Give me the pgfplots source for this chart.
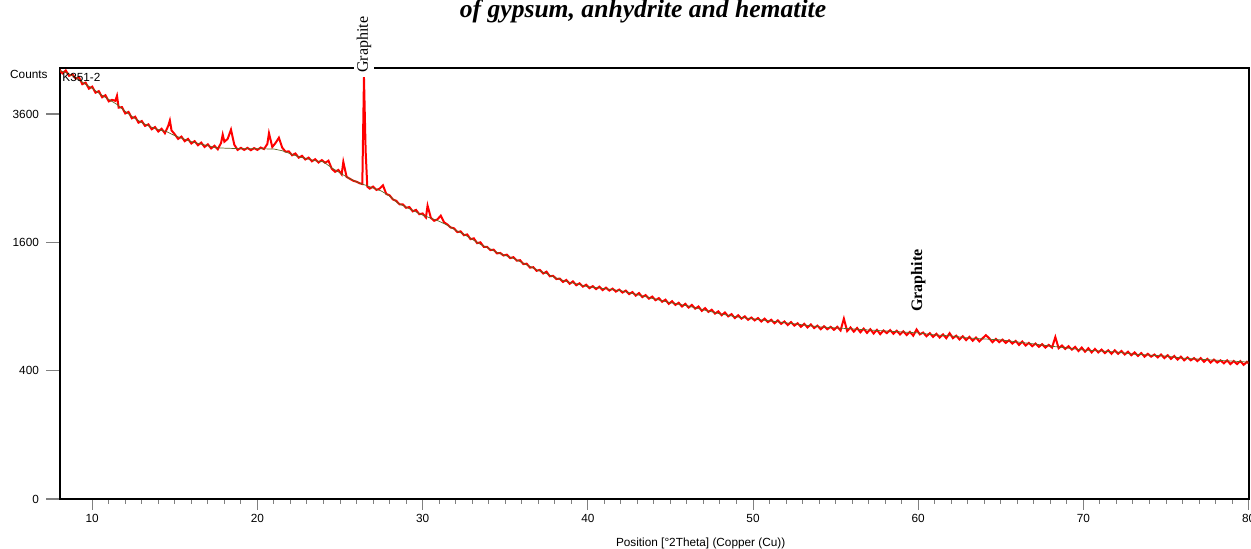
\documentclass[border=0pt]{standalone}
\usepackage{fontspec}
\setmainfont{Liberation Sans}
\newfontfamily\seriffont{Liberation Serif}
\usepackage{pgfplots}
\pgfplotsset{compat=1.18}
\definecolor{bgline}{RGB}{95,100,35}
\newcommand\tickfont{\fontsize{5.9}{6.5}\selectfont}

\begin{document}
\begin{tikzpicture}
\useasboundingbox (-30pt,-25pt) rectangle (595.5pt,249.5pt);
\begin{axis}[
    scale only axis,
    width=594.3pt, height=215.5pt,
    xmin=8.05, xmax=80,
    ymin=0, ymax=4512,
    % square-root intensity scale
    y coord trafo/.code={\pgfmathparse{sqrt(#1)}},
    y coord inv trafo/.code={\pgfmathparse{(#1)^2}},
    axis line style={line width=1pt},
    tick align=outside,
    xtick pos=bottom, ytick pos=left,
    xtick={10,20,...,80},
    minor x tick num=9,
    ytick={0,400,1600,3600},
    yticklabels={0,400,1600,3600},
    major tick length=7pt,
    minor tick length=2.5pt,
    xtick style={line width=0.5pt,/pgfplots/major tick length=5.5pt},
    ytick style={line width=0.6pt},
    minor tick style={line width=0.5pt},
    ticklabel style={font=\tickfont},
    /pgf/number format/assume math mode=true,
    xticklabel style={yshift=3pt},
    clip mode=individual,
]
\addplot[red, line width=1pt] coordinates {
(8.0,4480)(8.2,4400)(8.4,4460)(8.6,4350)(8.8,4380)(9.0,4290)(9.2,4320)(9.4,4180)(9.6,4210)(9.8,4090)
(10.0,4130)(10.2,4010)(10.4,4040)(10.6,3920)(10.8,3960)(11.0,3840)(11.2,3870)(11.4,3850)(11.5,3950)(11.6,3720)
(11.8,3730)(12.0,3610)(12.2,3640)(12.4,3520)(12.6,3550)(12.8,3440)(13.0,3470)(13.2,3380)(13.4,3410)(13.6,3320)
(13.8,3360)(14.0,3280)(14.2,3330)(14.4,3250)(14.6,3380)(14.7,3480)(14.8,3300)(15.0,3230)(15.2,3150)(15.4,3190)
(15.6,3110)(15.8,3150)(16.0,3070)(16.2,3110)(16.4,3040)(16.6,3085)(16.8,3010)(17.0,3055)(17.2,2985)(17.4,3030)
(17.6,2970)(17.8,3080)(17.9,3224)(18.0,3100)(18.2,3150)(18.4,3314)(18.6,3050)(18.8,2960)(19.0,2995)(19.2,2960)
(19.4,2995)(19.6,2955)(19.8,2990)(20.0,2960)(20.2,3000)(20.4,2975)(20.6,3060)(20.7,3250)(20.9,3010)(21.1,3080)
(21.3,3170)(21.5,3000)(21.7,2930)(21.9,2935)(22.1,2870)(22.3,2900)(22.5,2830)(22.7,2860)(22.9,2800)(23.1,2830)
(23.3,2770)(23.5,2805)(23.7,2750)(23.9,2790)(24.1,2745)(24.3,2780)(24.5,2650)(24.7,2600)(24.9,2630)(25.1,2560)
(25.2,2760)(25.4,2520)(25.6,2490)(25.8,2460)(26.0,2445)(26.2,2420)(26.35,2410)(26.45,4320)(26.55,2950)(26.65,2370)
(26.8,2340)(27.0,2370)(27.2,2320)(27.4,2340)(27.6,2390)(27.8,2260)(28.0,2240)(28.2,2180)(28.4,2160)(28.6,2110)
(28.8,2110)(29.0,2060)(29.2,2070)(29.4,2010)(29.6,2030)(29.8,1970)(30.0,1980)(30.2,1925)(30.3,2090)(30.5,1920)
(30.7,1880)(30.9,1900)(31.1,1950)(31.3,1860)(31.5,1830)(31.7,1790)(31.9,1780)(32.1,1730)(32.3,1740)(32.5,1690)
(32.7,1700)(32.9,1640)(33.1,1650)(33.3,1590)(33.5,1600)(33.7,1545)(33.9,1545)(34.1,1505)(34.3,1510)(34.5,1465)
(34.7,1470)(34.9,1440)(35.1,1450)(35.3,1410)(35.5,1420)(35.7,1380)(35.9,1385)(36.1,1340)(36.3,1345)(36.5,1300)
(36.7,1305)(36.9,1265)(37.1,1275)(37.3,1235)(37.5,1255)(37.7,1205)(37.9,1210)(38.1,1175)(38.3,1180)(38.5,1145)
(38.7,1165)(38.9,1125)(39.1,1150)(39.3,1110)(39.5,1130)(39.7,1095)(39.9,1115)(40.1,1080)(40.3,1100)(40.5,1070)
(40.7,1095)(40.9,1060)(41.1,1085)(41.3,1055)(41.5,1075)(41.7,1045)(41.9,1065)(42.1,1035)(42.3,1055)(42.5,1020)
(42.7,1040)(42.9,1005)(43.1,1030)(43.3,990)(43.5,1010)(43.7,975)(43.9,995)(44.1,960)(44.3,980)(44.5,945)
(44.7,965)(44.9,925)(45.1,950)(45.3,915)(45.5,935)(45.7,900)(45.9,925)(46.1,890)(46.3,915)(46.5,880)
(46.7,900)(46.9,860)(47.1,885)(47.3,850)(47.5,870)(47.7,835)(47.9,855)(48.1,820)(48.3,845)(48.5,810)
(48.7,830)(48.9,795)(49.1,820)(49.3,790)(49.5,810)(49.7,780)(49.9,800)(50.1,775)(50.3,795)(50.5,765)
(50.7,790)(50.9,760)(51.1,780)(51.3,750)(51.5,775)(51.7,745)(51.9,765)(52.1,735)(52.3,760)(52.5,730)
(52.7,750)(52.9,720)(53.1,745)(53.3,715)(53.5,740)(53.7,710)(53.9,730)(54.1,700)(54.3,725)(54.5,700)
(54.7,720)(54.9,695)(55.1,720)(55.3,690)(55.5,790)(55.7,685)(55.9,715)(56.1,680)(56.3,710)(56.5,675)
(56.7,705)(56.9,670)(57.1,700)(57.3,665)(57.5,695)(57.7,660)(57.9,690)(58.1,668)(58.3,693)(58.5,663)
(58.7,688)(58.9,658)(59.1,683)(59.3,653)(59.5,678)(59.7,648)(59.9,698)(60.1,658)(60.3,673)(60.5,643)
(60.7,668)(60.9,638)(61.1,663)(61.3,633)(61.5,658)(61.7,628)(61.9,668)(62.1,628)(62.3,648)(62.5,618)
(62.7,643)(62.9,613)(63.1,638)(63.3,608)(63.5,633)(63.7,603)(63.9,628)(64.1,652)(64.3,627)(64.5,597)
(64.7,622)(64.9,597)(65.1,617)(65.3,592)(65.5,612)(65.7,587)(65.9,607)(66.1,577)(66.3,602)(66.5,572)
(66.7,592)(66.9,567)(67.1,587)(67.3,562)(67.5,582)(67.7,557)(67.9,577)(68.1,557)(68.3,637)(68.5,552)
(68.7,572)(68.9,547)(69.1,567)(69.3,542)(69.5,562)(69.7,532)(69.9,557)(70.1,527)(70.3,552)(70.5,522)
(70.7,547)(70.9,522)(71.1,542)(71.3,517)(71.5,537)(71.7,512)(71.9,537)(72.1,512)(72.3,532)(72.5,507)
(72.7,527)(72.9,502)(73.1,522)(73.3,497)(73.5,517)(73.7,492)(73.9,512)(74.1,492)(74.3,507)(74.5,487)
(74.7,507)(74.9,482)(75.1,502)(75.3,477)(75.5,497)(75.7,472)(75.9,492)(76.1,467)(76.3,487)(76.5,467)
(76.7,482)(76.9,462)(77.1,482)(77.3,457)(77.5,477)(77.7,452)(77.9,472)(78.1,452)(78.3,467)(78.5,447)
(78.7,467)(78.9,442)(79.1,462)(79.3,442)(79.5,462)(79.7,437)(79.9,457)(80.0,447)
};
% background line
\addplot[bgline, line width=0.35pt] coordinates {
(8.0,4465)(8.5,4403)(9.0,4320)(9.5,4198)(10.0,4096)(10.5,3977)(11.0,3878)(11.5,3781)(12.0,3648)(12.5,3535)
(13.0,3442)(13.5,3368)(14.0,3314)(14.5,3278)(15.0,3207)(15.5,3153)(16.0,3101)(16.5,3066)(17.0,3031)(17.5,2997)
(18.0,2990)(19.0,2980)(20.0,2980)(21.0,2975)(21.5,2946)(22.0,2895)(22.5,2845)(23.0,2812)(23.5,2778)(24.0,2761)
(24.5,2663)(25.0,2583)(25.5,2504)(26.0,2442)(26.5,2396)(27.0,2349)(27.5,2304)(28.0,2229)(28.5,2127)(29.0,2069)
(29.5,2013)(30.0,1957)(30.5,1915)(31.0,1874)(31.5,1820)(32.0,1754)(32.5,1702)(33.0,1638)(33.5,1575)(34.0,1526)
(34.5,1477)(35.0,1441)(35.5,1406)(36.0,1359)(36.5,1313)(37.0,1268)(37.5,1235)(38.0,1191)(38.5,1159)(39.0,1137)
(39.5,1116)(40.0,1095)(40.5,1085)(41.0,1075)(41.5,1064)(42.0,1054)(43.0,1014)(44.0,974)(45.0,936)(46.0,907)
(47.0,869)(48.0,833)(49.0,806)(50.0,788)(51.0,771)(52.0,754)(53.0,737)(54.0,720)(55.0,711)(56.0,703)
(57.0,694)(58.0,686)(59.0,678)(60.0,670)(61.0,654)(62.0,646)(63.0,630)(64.0,622)(65.0,615)(66.0,599)
(67.0,584)(68.0,568)(69.0,554)(70.0,539)(71.0,532)(72.0,525)(73.0,510)(74.0,503)(75.0,496)(76.0,482)
(77.0,475)(78.0,468)(79.0,462)(80.0,455)
};
\node[anchor=east, font=\tickfont, inner sep=0pt] at ([xshift=-6pt,yshift=-3pt]rel axis cs:0,1) {Counts};
\node[anchor=west, font=\tickfont, inner sep=0pt] at ([xshift=1pt,yshift=-4.5pt]rel axis cs:0,1) {K351-2};
\node[font=\tickfont, inner sep=0pt] at ([yshift=-22pt]rel axis cs:0.539,0) {Position [°2Theta] (Copper (Cu))};
\node[rotate=90, anchor=west, fill=white, inner sep=1.5pt, font=\seriffont\fontsize{8}{8}\selectfont]
    at ([yshift=-4pt]axis cs:26.45,4512) {Graphite};
\node[rotate=90, anchor=west, inner sep=0pt, font=\seriffont\bfseries\fontsize{8}{8}\selectfont]
    at (axis cs:60,849) {Graphite};
\end{axis}
\node[anchor=base, font=\seriffont\bfseries\itshape\fontsize{12.8}{13}\selectfont] at (291.5pt,240.5pt)
    {of gypsum, anhydrite and hematite};
\end{tikzpicture}
\end{document}
